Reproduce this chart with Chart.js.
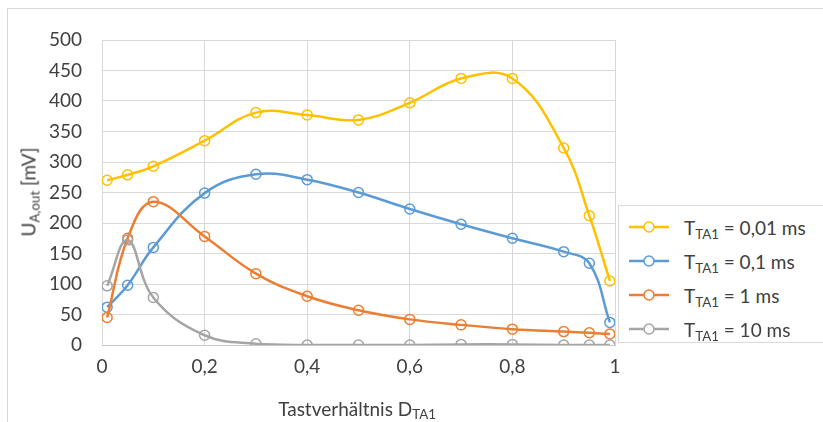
<!DOCTYPE html>
<html>
<head>
<meta charset="utf-8">
<script src="https://cdn.jsdelivr.net/npm/chart.js@4/dist/chart.umd.min.js"></script>
<style>
  body { margin: 0; background: #fff; font-family: Lato, "Open Sans", sans-serif; color: #404040; }
  #wrap { position: relative; width: 823px; height: 422px; overflow: hidden; }
  #frame { position: absolute; left: 7px; top: 8px; width: 830px; height: 430px; border: 1px solid #d9d9d9; box-sizing: border-box; }
  canvas { position: absolute; left: 0; top: 0; }
  #ytitle { position: absolute; left: 28px; top: 192px; transform: translate(-50%, -50%) rotate(-90deg); white-space: nowrap; font-size: 19px; }
  #xtitle { position: absolute; left: 357px; top: 408px; transform: translate(-50%, -50%); white-space: nowrap; font-size: 19px; }
  sub { font-size: 70%; vertical-align: -0.3em; line-height: 0; }
  #legend { position: absolute; left: 618px; top: 205px; width: 220px; height: 138px; border: 1px solid #d9d9d9; background: #fff; box-sizing: border-box; padding-top: 4px; }
  .item { height: 34px; display: flex; align-items: center; font-size: 19px; white-space: nowrap; }
  .item svg { margin-left: 9px; margin-right: 14px; }
</style>
</head>
<body>
<div id="wrap">
  <div id="frame"></div>
  <canvas id="chart" width="823" height="422"></canvas>
  <div id="ytitle">U<sub>A,out</sub> [mV]</div>
  <div id="xtitle">Tastverhältnis D<sub>TA1</sub></div>
  <div id="legend"></div>
</div>
<script>
// duty cycle values
const duty = [0.01, 0.05, 0.1, 0.2, 0.3, 0.4, 0.5, 0.6, 0.7, 0.8, 0.9, 0.95, 0.99]

// output voltage in mV
const t001ms = [270, 279, 293, 335, 381, 377, 369, 397, 437, 437, 323, 212, 105]
const t01ms = [62, 98, 160, 249, 280, 271, 250, 223, 198, 175, 153, 134, 37]
const t1ms = [45, 175, 235, 178, 117, 80, 57, 42, 33, 26, 22, 20, 18]
const t10ms = [97, 172, 78, 16, 2, 0, 0, 0, 1, 1, 0, 0, 0]

const labels = ['0,01 ms', '0,1 ms', '1 ms', '10 ms']
const colors = ['#FFC000', '#5B9BD5', '#ED7D31', '#A5A5A5']
const series = [t001ms, t01ms, t1ms, t10ms]

const xTicks = [0, 0.2, 0.4, 0.6, 0.8, 1]

const datasets = series.map((vals, i) => ({
    label: 'T_TA1 = ' + labels[i],
    data: duty.map((d, j) => ({ x: d, y: vals[j] })),
    borderColor: colors[i],
    backgroundColor: '#fff',
    borderWidth: 2.5,
    pointRadius: 5,
    pointBorderWidth: 1.5,
    pointBackgroundColor: 'rgba(0,0,0,0)',
    pointBorderColor: colors[i],
    showLine: true,
    tension: 0.4,
    order: 3 - i
}))

Chart.defaults.font.family = 'Lato, "Open Sans", sans-serif'
Chart.defaults.color = '#404040'

new Chart(document.querySelector('#chart').getContext('2d'), {
    type: 'scatter',
    data: { datasets: datasets },
    options: {
        responsive: false,
        animation: false,
        events: [],
        layout: { padding: { left: 0, top: 40, right: 208, bottom: 0 } },
        plugins: { legend: { display: false }, tooltip: { enabled: false } },
        scales: {
            x: {
                type: 'linear',
                min: 0,
                max: 1,
                afterBuildTicks: (scale) => { scale.ticks = xTicks.map(v => ({ value: v })) },
                afterFit: (scale) => { scale.height = 77 },
                ticks: {
                    font: { size: 19 },
                    padding: 10,
                    callback: (v) => String(v).replace('.', ',')
                },
                grid: { color: '#d9d9d9', lineWidth: 1, drawTicks: false },
                border: { color: '#c8c8c8', width: 1 }
            },
            y: {
                min: 0,
                max: 500,
                afterFit: (scale) => { scale.width = 102 },
                ticks: { stepSize: 50, font: { size: 19 }, padding: 20 },
                grid: { color: '#d9d9d9', lineWidth: 1, drawTicks: false },
                border: { display: false }
            }
        }
    },
    plugins: [{
        id: 'plotBorder',
        beforeDatasetsDraw(chart) {
            const { ctx, chartArea: a } = chart
            ctx.save()
            ctx.strokeStyle = '#d9d9d9'
            ctx.lineWidth = 1
            ctx.beginPath()
            ctx.moveTo(a.left, a.top + 0.5)
            ctx.lineTo(a.right + 0.5, a.top + 0.5)
            ctx.lineTo(a.right + 0.5, a.bottom)
            ctx.stroke()
            ctx.restore()
        }
    }]
})

// legend with subscripts
const legend = document.querySelector('#legend')
labels.forEach((lab, i) => {
    const item = document.createElement('div')
    item.className = 'item'
    item.innerHTML =
        '<svg width="42" height="14"><line x1="1" y1="7" x2="41" y2="7" stroke="' + colors[i] + '" stroke-width="2.5"/>' +
        '<circle cx="21" cy="7" r="5" fill="#fff" stroke="' + colors[i] + '" stroke-width="1.5"/></svg>' +
        '<span>T<sub>TA1</sub> = ' + lab + '</span>'
    legend.appendChild(item)
})
</script>
</body>
</html>
